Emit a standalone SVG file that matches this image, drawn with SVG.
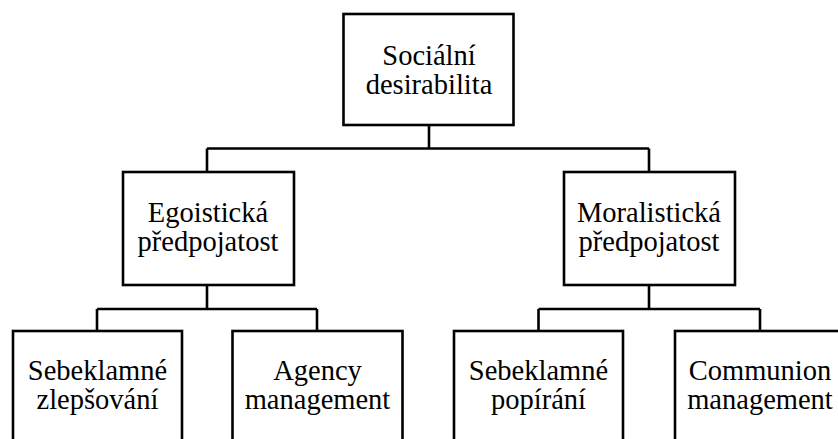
<svg xmlns="http://www.w3.org/2000/svg" width="838" height="439" viewBox="0 0 838 439">
<style>
.box{fill:#fff;stroke:#000;stroke-width:2.6}
.ln{fill:none;stroke:#000;stroke-width:2.6}
.t{font-family:'Liberation Serif','Times New Roman',Times,serif;font-size:28.5px;fill:#000;text-anchor:middle}
</style>
<rect width="838" height="439" fill="#fff"/>
<g id="connectors">
<path class="ln" d="M429,125 V148.5 M207,148.5 H649 M207,148.5 V172 M649,148.5 V172"/>
<path class="ln" d="M207,285 V309 M97,309 H317 M97,309 V331 M317,309 V331"/>
<path class="ln" d="M649,285 V309 M538.5,309 H760 M538.5,309 V331 M760,309 V331"/>
</g>
<g font-family="Liberation Serif, serif">
<g id="n0">
<rect class="box" x="343.5" y="14" width="170" height="111"/>
<text class="t" x="429" y="65">Sociální</text>
<text class="t" x="429" y="94">desirabilita</text>
</g>
<g id="n1">
<rect class="box" x="123" y="172" width="171" height="113"/>
<text class="t" x="208" y="222">Egoistická</text>
<text class="t" x="208" y="250.5">předpojatost</text>
</g>
<g id="n2">
<rect class="box" x="564" y="172" width="171" height="113"/>
<text class="t" x="649" y="222">Moralistická</text>
<text class="t" x="649" y="250.5">předpojatost</text>
</g>
<g id="n3">
<rect class="box" x="13" y="331" width="169" height="113"/>
<text class="t" x="97.5" y="379.5">Sebeklamné</text>
<text class="t" x="97.5" y="408.5">zlepšování</text>
</g>
<g id="n4">
<rect class="box" x="232.5" y="331" width="170" height="113"/>
<text class="t" x="317.5" y="379.5">Agency</text>
<text class="t" x="317.5" y="408.5">management</text>
</g>
<g id="n5">
<rect class="box" x="454" y="331" width="169" height="113"/>
<text class="t" x="538.5" y="379.5">Sebeklamné</text>
<text class="t" x="538.5" y="408.5">popírání</text>
</g>
<g id="n6">
<rect class="box" x="675" y="331" width="170" height="113"/>
<text class="t" x="760" y="379.5">Communion</text>
<text class="t" x="760" y="408.5">management</text>
</g>
</g>
</svg>
